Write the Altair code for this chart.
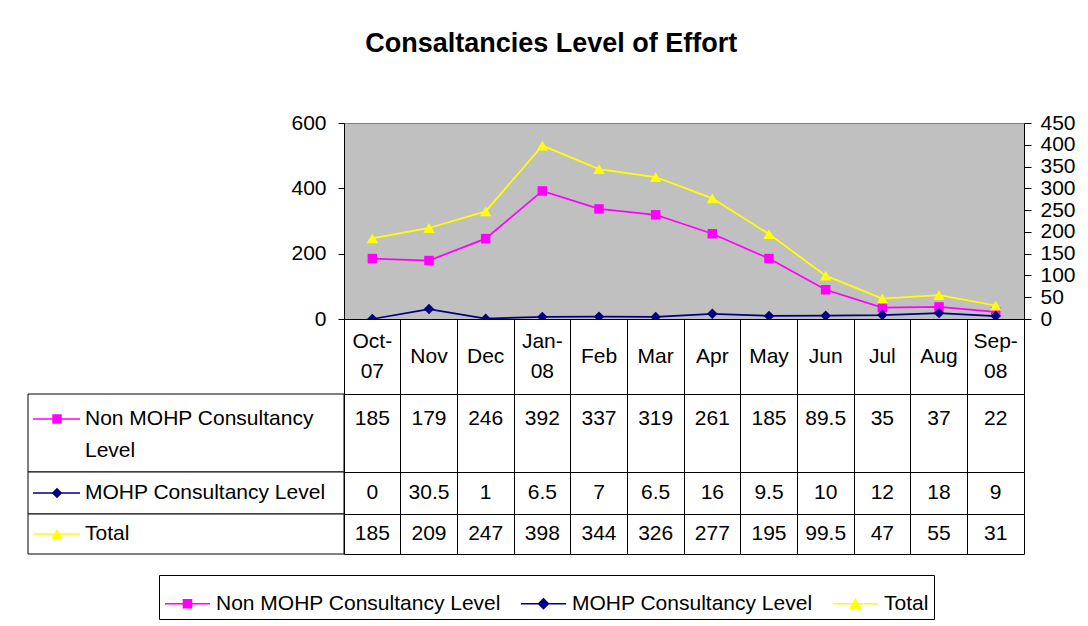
import altair as alt
import pandas as pd

months = ["Oct-07", "Nov", "Dec", "Jan-08", "Feb", "Mar", "Apr", "May", "Jun", "Jul", "Aug", "Sep-08"]
month_labels = ["Oct-\n07", "Nov", "Dec", "Jan-\n08", "Feb", "Mar", "Apr", "May", "Jun", "Jul", "Aug", "Sep-\n08"]
series_names = ["Non MOHP Consultancy Level", "MOHP Consultancy Level", "Total"]
header_labels = ["Non MOHP Consultancy\nLevel", "MOHP Consultancy Level", "Total"]
non_mohp = [185, 179, 246, 392, 337, 319, 261, 185, 89.5, 35, 37, 22]
mohp = [0, 30.5, 1, 6.5, 7, 6.5, 16, 9.5, 10, 12, 18, 9]
total = [185, 209, 247, 398, 344, 326, 277, 195, 99.5, 47, 55, 31]
left_ticks = [0, 200, 400, 600]
right_ticks = [0, 50, 100, 150, 200, 250, 300, 350, 400, 450]

series_colors = ["#FF00FF", "#000080", "#FFFF00"]
point_shapes = ["square", "diamond", "triangle-up"]
point_sizes = [90, 110, 130]
legend_paths = [
    "M-1,0H1M-0.18,-0.18H0.18V0.18H-0.18Z",
    "M-1,0H1M0,-0.22L0.22,0L0,0.22L-0.22,0Z",
    "M-1,0H1M0,-0.2L0.22,0.2H-0.22Z",
]

FONT = "Liberation Sans"
FS = 21
W = 680
HDR = 316
MAIN_H = 196
MONTH_H = 75
LINE_H = 30
ROW_H = [78, 42, 40]
ROW_TEXT_Y = [25, 21, 20]

values_by_series = [non_mohp, mohp, total]
rows = []
for name, vals in zip(series_names, values_by_series):
    for m, v in zip(months, vals):
        rows.append({"month": m, "series": name, "value": v, "text": f"{v:g}"})
df = pd.DataFrame(rows)

x_main = alt.X("month:N", sort=months, scale=alt.Scale(type="point", padding=0.5),
               axis=alt.Axis(labels=False, ticks=False, title=None, domainColor="black",
                             grid=False))

left_scale = alt.Scale(domain=[0, 600], nice=False, zero=True)
right_scale = alt.Scale(domain=[0, 450], nice=False, zero=True)
left_axis = alt.Axis(values=left_ticks, title=None, grid=False, tickSize=6, tickColor="black",
                     domainColor="black", labelFont=FONT, labelFontSize=FS, labelColor="black",
                     labelPadding=12, labelOverlap=False)
right_axis = alt.Axis(values=right_ticks, orient="right", title=None, grid=False, tickSize=7,
                      tickColor="black", domainColor="black", labelFont=FONT, labelFontSize=FS,
                      labelColor="black", labelPadding=9, labelOverlap=False)


def series_layer(i, scale, axis):
    d = df[df.series == series_names[i]]
    base = alt.Chart(d).encode(x=x_main, y=alt.Y("value:Q", scale=scale, axis=axis))
    line = base.mark_line(color=series_colors[i], strokeWidth=1.75)
    pts = base.mark_point(shape=point_shapes[i], filled=True, color=series_colors[i],
                          size=point_sizes[i], opacity=1)
    return line + pts


leg = alt.Legend(title=None, orient="none", legendX=-185, legendY=452, direction="horizontal",
                 strokeColor="black", fillColor="white", padding=5, labelFont=FONT,
                 labelFontSize=FS, labelColor="black", labelLimit=500, symbolSize=2025,
                 symbolStrokeWidth=1.5, labelOffset=5, columnPadding=17, symbolOpacity=1)
legend_layer = alt.Chart(df).mark_point(filled=True, opacity=0).encode(
    x=x_main,
    y=alt.Y("value:Q", scale=left_scale, axis=left_axis),
    fill=alt.Fill("series:N", scale=alt.Scale(domain=series_names, range=series_colors), legend=leg),
    stroke=alt.Stroke("series:N", scale=alt.Scale(domain=series_names, range=series_colors), legend=leg),
    shape=alt.Shape("series:N", scale=alt.Scale(domain=series_names, range=legend_paths), legend=leg),
)

left = alt.layer(series_layer(0, left_scale, left_axis), series_layer(1, left_scale, left_axis),
                 legend_layer)
right = series_layer(2, right_scale, right_axis)
main = alt.layer(left, right).resolve_scale(y="independent").properties(
    width=W, height=MAIN_H, view=alt.ViewBackground(fill="#C0C0C0", stroke="#808080"))

cells_x = alt.X("month:N", sort=months,
                scale=alt.Scale(type="band", paddingInner=0, paddingOuter=0),
                axis=alt.Axis(grid=True, gridColor="black", gridWidth=1, bandPosition=0,
                              labels=False, ticks=False, domain=False, title=None))

month_df = pd.DataFrame({"month": months, "label": month_labels})
month_df["two"] = month_df["label"].str.contains("\n")
mtext = dict(font=FONT, fontSize=FS, lineBreak="\n", lineHeight=LINE_H, baseline="middle",
             color="black")
months_one = alt.Chart(month_df[~month_df.two]).mark_text(**mtext).encode(
    x=cells_x, y=alt.value(MONTH_H / 2), text="label:N")
months_two = alt.Chart(month_df[month_df.two]).mark_text(**mtext).encode(
    x=cells_x, y=alt.value(MONTH_H / 2 - LINE_H / 2), text="label:N")
months_chart = alt.layer(months_one, months_two).properties(
    width=W, height=MONTH_H, view=alt.ViewBackground(stroke="black", fill="white"))

table_rows = []
for i in range(3):
    hdf = pd.DataFrame({"label": [header_labels[i]]})
    sym_y = ROW_TEXT_Y[i]
    hbox = alt.Chart(hdf).mark_rect(fill="white", stroke="black", strokeWidth=1).encode(
        x=alt.value(-HDR), x2=alt.value(0), y=alt.value(0), y2=alt.value(ROW_H[i]))
    htext = alt.Chart(hdf).mark_text(
        align="left", baseline="middle", font=FONT, fontSize=FS, lineBreak="\n",
        lineHeight=32, color="black"
    ).encode(x=alt.value(-HDR + 57), y=alt.value(sym_y), text="label:N")
    hrule = alt.Chart(hdf).mark_rule(color=series_colors[i], strokeWidth=1.5).encode(
        x=alt.value(-HDR + 5), x2=alt.value(-HDR + 52), y=alt.value(sym_y))
    hpt = alt.Chart(hdf).mark_point(shape=point_shapes[i], filled=True, color=series_colors[i],
                                    size=point_sizes[i], opacity=1).encode(
        x=alt.value(-HDR + 29), y=alt.value(sym_y))
    cdf = df[df.series == series_names[i]]
    cells = alt.Chart(cdf).mark_text(font=FONT, fontSize=FS, baseline="middle", color="black").encode(
        x=cells_x, y=alt.value(ROW_TEXT_Y[i]), text="text:N")
    row = alt.layer(hbox, hrule, hpt, htext, cells).properties(
        width=W, height=ROW_H[i], view=alt.ViewBackground(stroke="black", fill="white"))
    table_rows.append(row)

chart = alt.vconcat(
    main, months_chart, *table_rows, spacing=0, bounds="flush",
).properties(
    title=alt.TitleParams("Consaltancies Level of Effort", font=FONT, fontSize=27,
                          fontWeight="bold", color="black", anchor="middle", dx=0, offset=54),
    padding={"left": 19, "top": 21, "right": 0, "bottom": 0},
    background="white",
).configure_view(stroke="black")

chart.save("out.html", embed_options={"renderer": "svg", "actions": False})
